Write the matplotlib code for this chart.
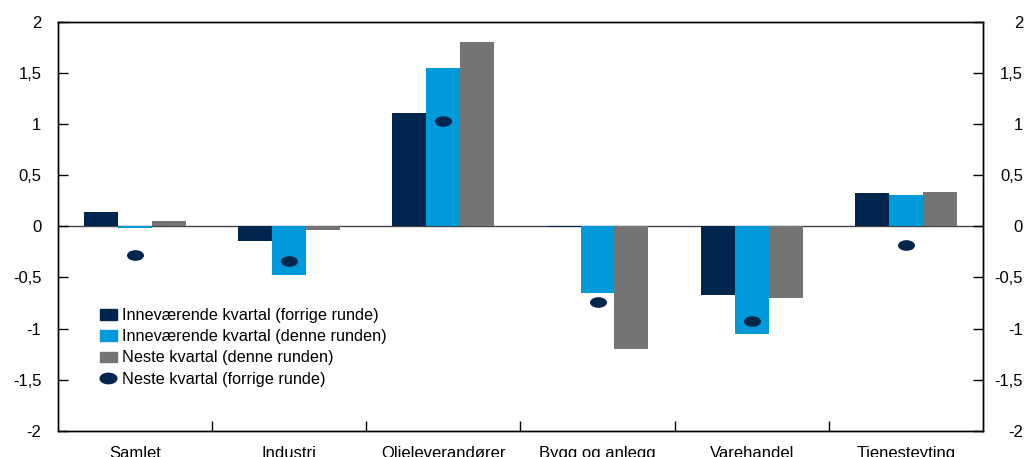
import numpy as np
import matplotlib
matplotlib.use("Agg")
import matplotlib.pyplot as plt
from matplotlib.path import Path
from matplotlib.transforms import Affine2D
from matplotlib.patches import Patch
from matplotlib.lines import Line2D
from matplotlib.ticker import FuncFormatter, FixedLocator

plt.rcParams['font.family'] = ['Liberation Sans', 'DejaVu Sans']

# Data
categories = ['Samlet', 'Industri', 'Oljeleverandører', 'Bygg og anlegg', 'Varehandel', 'Tjenesteyting']
current_prev = [0.14, -0.14, 1.11, -0.01, -0.67, 0.33]    # Inneværende kvartal (forrige runde)
current_now = [-0.02, -0.48, 1.55, -0.65, -1.05, 0.31]    # Inneværende kvartal (denne runden)
next_now = [0.05, -0.04, 1.80, -1.20, -0.70, 0.34]        # Neste kvartal (denne runden)
next_prev = [-0.28, -0.34, 1.03, -0.74, -0.93, -0.18]     # Neste kvartal (forrige runde)

labels = ['Inneværende kvartal (forrige runde)',
          'Inneværende kvartal (denne runden)',
          'Neste kvartal (denne runden)',
          'Neste kvartal (forrige runde)']
colors = ['#00264D', '#009ADA', '#747474']
dot_color = '#00264D'

# ellipse shaped marker (wider than tall)
ellipse = Path.unit_circle().transformed(Affine2D().scale(1.6, 1.0))

fig = plt.figure(figsize=(10.27, 4.57), dpi=100)
ax = fig.add_axes([0.0565, 0.0575, 0.9005, 0.8945])

x = np.arange(len(categories))
w = 0.22
ax.bar(x - w, current_prev, w, color=colors[0], zorder=2)
ax.bar(x, current_now, w, color=colors[1], zorder=2)
ax.bar(x + w, next_now, w, color=colors[2], zorder=2)
ax.scatter(x, next_prev, marker=ellipse, s=150, color=dot_color, zorder=3, linewidths=0)

ax.axhline(0, color='#444444', lw=1.0, zorder=1)

yticks = np.arange(-2, 2.01, 0.5)
fmt = FuncFormatter(lambda v, p: ('%g' % v).replace('.', ','))

ax.set_xlim(-0.5, len(categories) - 0.5)
ax.set_ylim(-2, 2)
ax.set_yticks(yticks)
ax.yaxis.set_major_formatter(fmt)
ax.tick_params(axis='y', direction='in', length=7, width=1, labelsize=12, pad=12)

# right hand axis, labels right aligned near the figure edge
ax2 = ax.twinx()
ax2.set_ylim(-2, 2)
ax2.set_yticks(yticks)
ax2.yaxis.set_major_formatter(fmt)
ax2.tick_params(axis='y', direction='in', length=7, width=1, labelsize=12, pad=29)
for lab in ax2.get_yticklabels():
    lab.set_horizontalalignment('right')

ax.set_xticks(x)
ax.set_xticklabels(categories, fontsize=12)
ax.xaxis.set_minor_locator(FixedLocator(np.arange(0.5, len(categories) - 1, 1.0)))
ax.tick_params(axis='x', which='major', length=0, pad=11)
ax.tick_params(axis='x', which='minor', direction='in', length=7, width=1)

for a in (ax, ax2):
    for s in a.spines.values():
        s.set_linewidth(1.0)
        s.set_color('black')

handles = [Patch(color=colors[0]), Patch(color=colors[1]), Patch(color=colors[2]),
           Line2D([], [], ls='none', marker=ellipse, markersize=12, color=dot_color)]
ax2.legend(handles, labels, loc='upper left', bbox_to_anchor=(0.045, 0.30), frameon=False,
           fontsize=11.7, handlelength=1.05, handleheight=0.6, handletextpad=0.35,
           labelspacing=0.38, borderaxespad=0, borderpad=0)

fig.savefig('out.png', dpi=100)
